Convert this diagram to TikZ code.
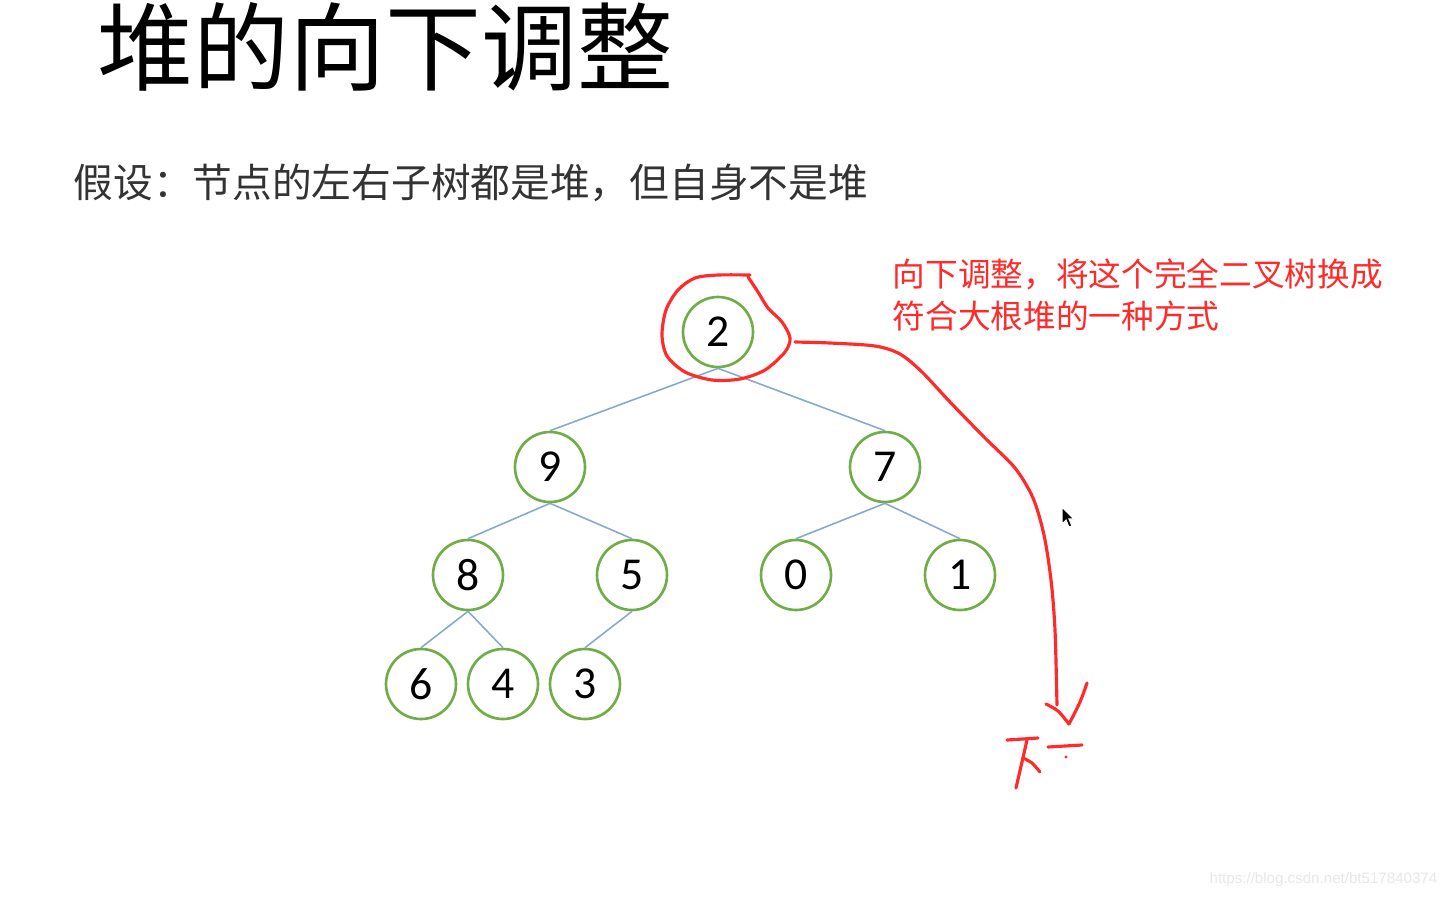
\documentclass[tikz,border=0pt]{standalone}
\usepackage{fontspec}
\setmainfont{Carlito}
\newfontfamily\cjk{Noto Sans CJK SC}
\newfontfamily\urlfont{Liberation Sans}
\definecolor{ringgreen}{HTML}{70AD47}
\definecolor{edgeblue}{HTML}{86AACF}
\definecolor{penred}{HTML}{FF2A2A}
\begin{document}
\begin{tikzpicture}[x=0.1mm, y=-0.1mm,
  hn/.style={circle,draw=ringgreen,line width=0.75pt,minimum size=7mm,inner sep=0pt,fill=white,font=\fontsize{13}{13}\selectfont},
  ed/.style={edgeblue,line width=0.45pt},
  pen/.style={penred,line width=0.9pt,line cap=round,line join=round}]
\useasboundingbox[fill=white] (0,0) rectangle (1447,899);
% titles
\node[anchor=west,inner sep=0pt,font=\cjk\fontsize{27.3}{27.3}\selectfont] (title) at (97,47) {堆的向下调整};
\node[anchor=west,inner sep=0pt,text=black!80,font=\cjk\fontsize{11.3}{11.3}\selectfont] (hyp) at (73,183) {假设：节点的左右子树都是堆，但自身不是堆};
\node[anchor=north west,inner sep=0pt,align=left,text=penred,font=\cjk\fontsize{9.3}{11.95}\selectfont] (note) at (892,258) {向下调整，将这个完全二叉树换成\\符合大根堆的一种方式};
% the tree
\node[hn] (n2) at (718,332) {2};
\node[hn] (n9) at (550,467) {9};
\node[hn] (n7) at (885,467) {7};
\node[hn] (n8) at (468,575) {8};
\node[hn] (n5) at (632,575) {5};
\node[hn] (n0) at (796,575) {0};
\node[hn] (n1) at (960,575) {1};
\node[hn] (n6) at (421,684) {6};
\node[hn] (n4) at (503,684) {4};
\node[hn] (n3) at (585,684) {3};
\foreach \p/\c in {n2/n9,n2/n7,n9/n8,n9/n5,n7/n0,n7/n1,n8/n6,n8/n4,n5/n3}
  \draw[ed] (\p.south) -- (\c.north);
% hand drawn marks
\draw[pen] plot[smooth] coordinates {(750,275) (718,275) (695,278) (678,290) (666,310) (662,335) (667,356) (685,372) (712,380) (740,379) (765,370) (785,352) (790,338) (782,322) (768,308) (758,292) (748,277)};
\coordinate (tail) at (795,342);
\coordinate (tip) at (1057,705);
\draw[pen] (tail) plot[smooth] coordinates {(795,342) (830,343) (875,346) (900,354) (922,372) (950,402) (985,438) (1015,468) (1033,498) (1044,535) (1051,580) (1055,630) (1057,705)};
\draw[pen] plot[smooth] coordinates {(1046,704) (1058,711) (1069,724)};
\draw[pen] plot[smooth] coordinates {(1087,683) (1080,702) (1069,724)};
\draw[pen] (1007,740) -- (1038,738);
\draw[pen] plot[smooth] coordinates {(1027,740) (1022,762) (1016,788)};
\draw[pen] plot[smooth] coordinates {(1023,758) (1032,763) (1040,772)};
\draw[pen] (1048,747) -- (1082,745);
\fill[penred] (1066,757) circle (1.6);
% mouse pointer
\filldraw[draw=white,fill=black,line width=0.3pt] (1062,507) -- (1062,524) -- (1066,520) -- (1069,527) -- (1072,526) -- (1069,519) -- (1074,519) -- cycle;
% watermark
\node[anchor=east,inner sep=0pt,text=black!9,font=\urlfont\fontsize{4.3}{4.3}\selectfont] (mark) at (1438,880) {https://blog.csdn.net/bt517840374};
\end{tikzpicture}
\end{document}
